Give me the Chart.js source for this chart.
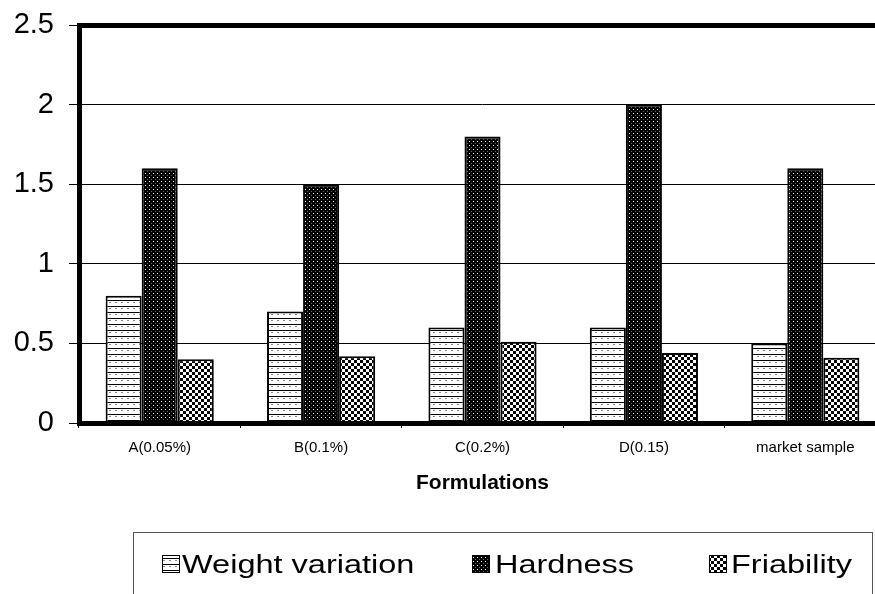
<!DOCTYPE html>
<html>
<head>
<meta charset="utf-8">
<script src="https://cdn.jsdelivr.net/npm/chart.js@4.4.1/dist/chart.umd.min.js"></script>
<style>
  html, body { margin: 0; padding: 0; background: #fff; overflow: hidden; }
  #wrap { width: 895px; height: 594px; }
</style>
</head>
<body>
<div id="wrap"><canvas id="chart1" width="895" height="594"></canvas></div>
<script>
// data
const formulations = ['A(0.05%)', 'B(0.1%)', 'C(0.2%)', 'D(0.15)', 'market sample'];
const weightVariation = [0.8, 0.7, 0.6, 0.6, 0.5];
const hardness = [1.6, 1.5, 1.8, 2.0, 1.6];
const friability = [0.4, 0.42, 0.51, 0.44, 0.41];
const yTicks = [0, 0.5, 1, 1.5, 2, 2.5];

const FONT = '"Liberation Sans", Arial, sans-serif';

const canvas = document.getElementById('chart1');
const mainCtx = canvas.getContext('2d');

function makePattern(size, paint) {
  const c = document.createElement('canvas');
  c.width = size;
  c.height = size;
  paint(c.getContext('2d'), size);
  return mainCtx.createPattern(c, 'repeat');
}

// white with horizontal lines (bricks)
const pWeight = makePattern(6, function(g, s) {
  g.fillStyle = '#fff'; g.fillRect(0, 0, s, s);
  g.fillStyle = '#000'; g.fillRect(0, 0, s, 1);
  g.fillStyle = '#888'; g.fillRect(1, 2, 2, 1);
});
// black with small white dots
const pHard = makePattern(4, function(g, s) {
  g.fillStyle = '#000'; g.fillRect(0, 0, s, s);
  g.fillStyle = '#fff'; g.fillRect(1, 1, 1, 1);
  g.fillStyle = '#666'; g.fillRect(3, 3, 1, 1);
});
// checkerboard
const pFri = makePattern(6, function(g, s) {
  g.fillStyle = '#fff'; g.fillRect(0, 0, s, s);
  g.fillStyle = '#000'; g.fillRect(0, 0, 3, 3); g.fillRect(3, 3, 3, 3);
});

// thick frame round the plot
const frame = {
  id: 'frame',
  afterDatasetsDraw(chart) {
    const ctx = chart.ctx, a = chart.chartArea;
    ctx.save();
    ctx.strokeStyle = '#000';
    ctx.lineWidth = 5;
    ctx.strokeRect(a.left + 0.5, a.top + 0.5, a.right - a.left, a.bottom - a.top);
    ctx.restore();
  }
};

// boxed legend under the chart
const legendBox = {
  id: 'legendBox',
  afterDraw(chart) {
    const ctx = chart.ctx;
    const iconX = [162, 472, 709], textX = [182, 495, 731];
    ctx.save();
    ctx.strokeStyle = '#555';
    ctx.lineWidth = 1;
    ctx.strokeRect(133.5, 532.5, 739, 90);
    chart.data.datasets.forEach(function(ds, i) {
      ctx.fillStyle = ds.backgroundColor;
      ctx.fillRect(iconX[i], 555, 18, 18);
      ctx.strokeStyle = '#000';
      ctx.strokeRect(iconX[i] + 0.5, 555.5, 17, 17);
      ctx.save();
      ctx.translate(textX[i], 573);
      ctx.scale(1.3, 1);
      ctx.fillStyle = '#000';
      ctx.font = '25px ' + FONT;
      ctx.textBaseline = 'alphabetic';
      ctx.fillText(ds.label, 0, 0);
      ctx.restore();
    });
    ctx.restore();
  }
};

const chart1 = new Chart(canvas, {
  type: 'bar',
  data: {
    labels: formulations,
    datasets: [
      { label: 'Weight variation', data: weightVariation, backgroundColor: pWeight, borderColor: '#000', borderWidth: 2 },
      { label: 'Hardness', data: hardness, backgroundColor: pHard, borderColor: '#000', borderWidth: 2 },
      { label: 'Friability', data: friability, backgroundColor: pFri, borderColor: '#000', borderWidth: 2 }
    ]
  },
  options: {
    responsive: false,
    animation: false,
    layout: { padding: { top: 25, right: 9, bottom: 98, left: 0 } },
    datasets: { bar: { categoryPercentage: 0.67, barPercentage: 1 } },
    plugins: { legend: { display: false }, tooltip: { enabled: false } },
    scales: {
      x: {
        offset: true,
        grid: { display: true, drawOnChartArea: false, offset: true, tickLength: 5, color: '#000', lineWidth: 1 },
        border: { display: false },
        ticks: { color: '#000', font: { family: FONT, size: 15 }, padding: 11, maxRotation: 0, autoSkip: false },
        title: { display: true, text: 'Formulations', color: '#000', font: { family: FONT, size: 21, weight: 'bold' }, padding: 0 },
        afterFit: function(s) { s.height = 73; s.paddingLeft = 0; s.paddingRight = 0; }
      },
      y: {
        min: 0,
        max: 2.5,
        afterBuildTicks: function(s) { s.ticks = yTicks.map(function(v) { return { value: v }; }); },
        grid: { color: '#000', lineWidth: 1, tickLength: 10 },
        border: { display: false },
        ticks: { color: '#000', font: { family: FONT, size: 29 }, padding: 15, callback: function(v) { return String(v); } },
        afterFit: function(s) { s.width = 79; s.paddingTop = 0; s.paddingBottom = 0; }
      }
    }
  },
  plugins: [frame, legendBox]
});
</script>
</body>
</html>
